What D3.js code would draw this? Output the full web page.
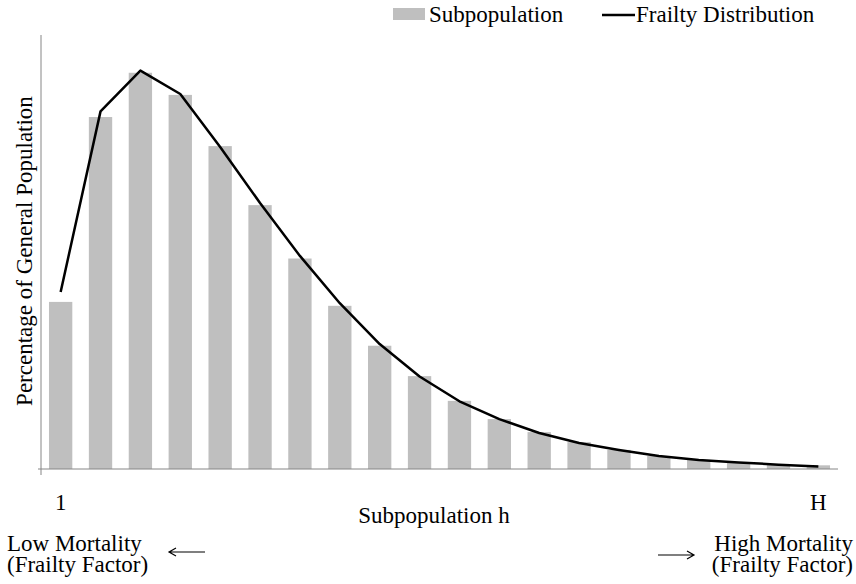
<!DOCTYPE html>
<html>
<head>
<meta charset="utf-8">
<script src="https://cdn.jsdelivr.net/npm/d3@7"></script>
<style>
  body { margin: 0; background: #fff; }
</style>
</head>
<body>
<div id="grafiekContainer"></div>
<script>

// data (percentage van de populatie per subpopulatie)
var subpopulaties = d3.range(1, 21);
var balkWaarden = [3.85, 8.11, 9.13, 8.62, 7.44, 6.08, 4.85, 3.76, 2.84, 2.14,
                   1.57, 1.15, 0.85, 0.62, 0.44, 0.30, 0.21, 0.15, 0.11, 0.085];
var lijnWaarden = [4.08, 8.24, 9.18, 8.64, 7.42, 6.13, 4.91, 3.82, 2.88, 2.13,
                   1.56, 1.15, 0.83, 0.60, 0.44, 0.30, 0.21, 0.15, 0.10, 0.06];
var asLabels = ["1", "H"];

var breedte = 856;
var hoogte = 584;
var lettertype = "'Liberation Serif', 'Times New Roman', Times, serif";

// marges vast leggen
var marge = {boven: 35, beneden: 115, rechts: 18, links: 41};

var svg = d3.select("#grafiekContainer")
            .append("svg")
            .attr("width", breedte)
            .attr("height", hoogte)
            .style("font-family", lettertype)
            .style("font-size", "23px");

// schaalfuncties
var x = d3.scaleBand()
          .domain(subpopulaties)
          .range([marge.links, breedte - marge.rechts])
          .paddingInner(0.415)
          .paddingOuter(0.2);

var y = d3.scaleLinear()
          .domain([0, 10])
          .range([hoogte - marge.beneden, marge.boven]);

// de balken
svg.selectAll(".balk")
   .data(balkWaarden)
   .enter()
   .append("rect")
   .attr("class", "balk")
   .attr("x", function(d, i) { return x(subpopulaties[i]); })
   .attr("y", function(d) { return y(d); })
   .attr("width", x.bandwidth())
   .attr("height", function(d) { return y(0) - y(d); })
   .attr("fill", "#bfbfbf");

// y-as (alleen een lijn)
svg.append("line")
   .attr("x1", marge.links).attr("x2", marge.links)
   .attr("y1", y(10)).attr("y2", y(0))
   .attr("stroke", "#868686")
   .attr("stroke-width", 1);

// x-as lijn met klein streepje bij de oorsprong
svg.append("line")
   .attr("x1", marge.links - 3).attr("x2", breedte - marge.rechts)
   .attr("y1", y(0)).attr("y2", y(0))
   .attr("stroke", "#868686")
   .attr("stroke-width", 1);

svg.append("line")
   .attr("x1", marge.links).attr("x2", marge.links)
   .attr("y1", y(0)).attr("y2", y(0) + 6)
   .attr("stroke", "#868686")
   .attr("stroke-width", 1);

// de lijn van de frailty verdeling
var lijn = d3.line()
             .x(function(d, i) { return x(subpopulaties[i]) + x.bandwidth() / 2; })
             .y(function(d) { return y(d); });

svg.append("path")
   .datum(lijnWaarden)
   .attr("d", lijn)
   .attr("fill", "none")
   .attr("stroke", "#000")
   .attr("stroke-width", 2.5)
   .attr("stroke-linejoin", "round");

// x-as labels: alleen eerste en laatste subpopulatie
var asX = d3.axisBottom(x)
            .tickValues([subpopulaties[0], subpopulaties[subpopulaties.length - 1]])
            .tickFormat(function(d, i) { return asLabels[i]; })
            .tickSize(0)
            .tickPadding(25);

var asXGroep = svg.append("g")
                  .attr("transform", "translate(0," + y(0) + ")")
                  .call(asX);
asXGroep.select(".domain").remove();
asXGroep.attr("font-family", null).attr("font-size", null);

// titel van de x-as
svg.append("text")
   .attr("x", 434)
   .attr("y", 523)
   .attr("text-anchor", "middle")
   .text("Subpopulation h");

// titel van de y-as
svg.append("text")
   .attr("transform", "rotate(-90)")
   .attr("x", -251)
   .attr("y", 32)
   .attr("text-anchor", "middle")
   .text("Percentage of General Population");

// uitleg links en rechts onder de as
svg.append("text").attr("x", 7).attr("y", 551).text("Low Mortality");
svg.append("text").attr("x", 7).attr("y", 572).text("(Frailty Factor)");
svg.append("text").attr("x", 853).attr("y", 551).attr("text-anchor", "end").text("High Mortality");
svg.append("text").attr("x", 853).attr("y", 572).attr("text-anchor", "end").text("(Frailty Factor)");

// pijlen
function pijl(x1, x2, yPos) {
  var richting = x2 > x1 ? -1 : 1;
  svg.append("path")
     .attr("d", "M" + x1 + "," + yPos + "H" + x2
               + "M" + (x2 + richting * 7) + "," + (yPos - 4) + "L" + x2 + "," + yPos
               + "L" + (x2 + richting * 7) + "," + (yPos + 4))
     .attr("fill", "none")
     .attr("stroke", "#000")
     .attr("stroke-width", 1.2);
}
pijl(205, 169, 552);
pijl(658, 694, 555);

// legenda
svg.append("rect")
   .attr("x", 393).attr("y", 8)
   .attr("width", 32).attr("height", 12)
   .attr("fill", "#bfbfbf");
svg.append("text").attr("x", 429).attr("y", 22).text("Subpopulation");

svg.append("line")
   .attr("x1", 602).attr("x2", 635)
   .attr("y1", 15).attr("y2", 15)
   .attr("stroke", "#000")
   .attr("stroke-width", 2.5);
svg.append("text").attr("x", 636).attr("y", 22).text("Frailty Distribution");

// alle teksten in hetzelfde lettertype
svg.selectAll("text")
   .style("font-family", lettertype)
   .style("font-size", "23px")
   .attr("fill", "#000");

</script>
</body>
</html>
